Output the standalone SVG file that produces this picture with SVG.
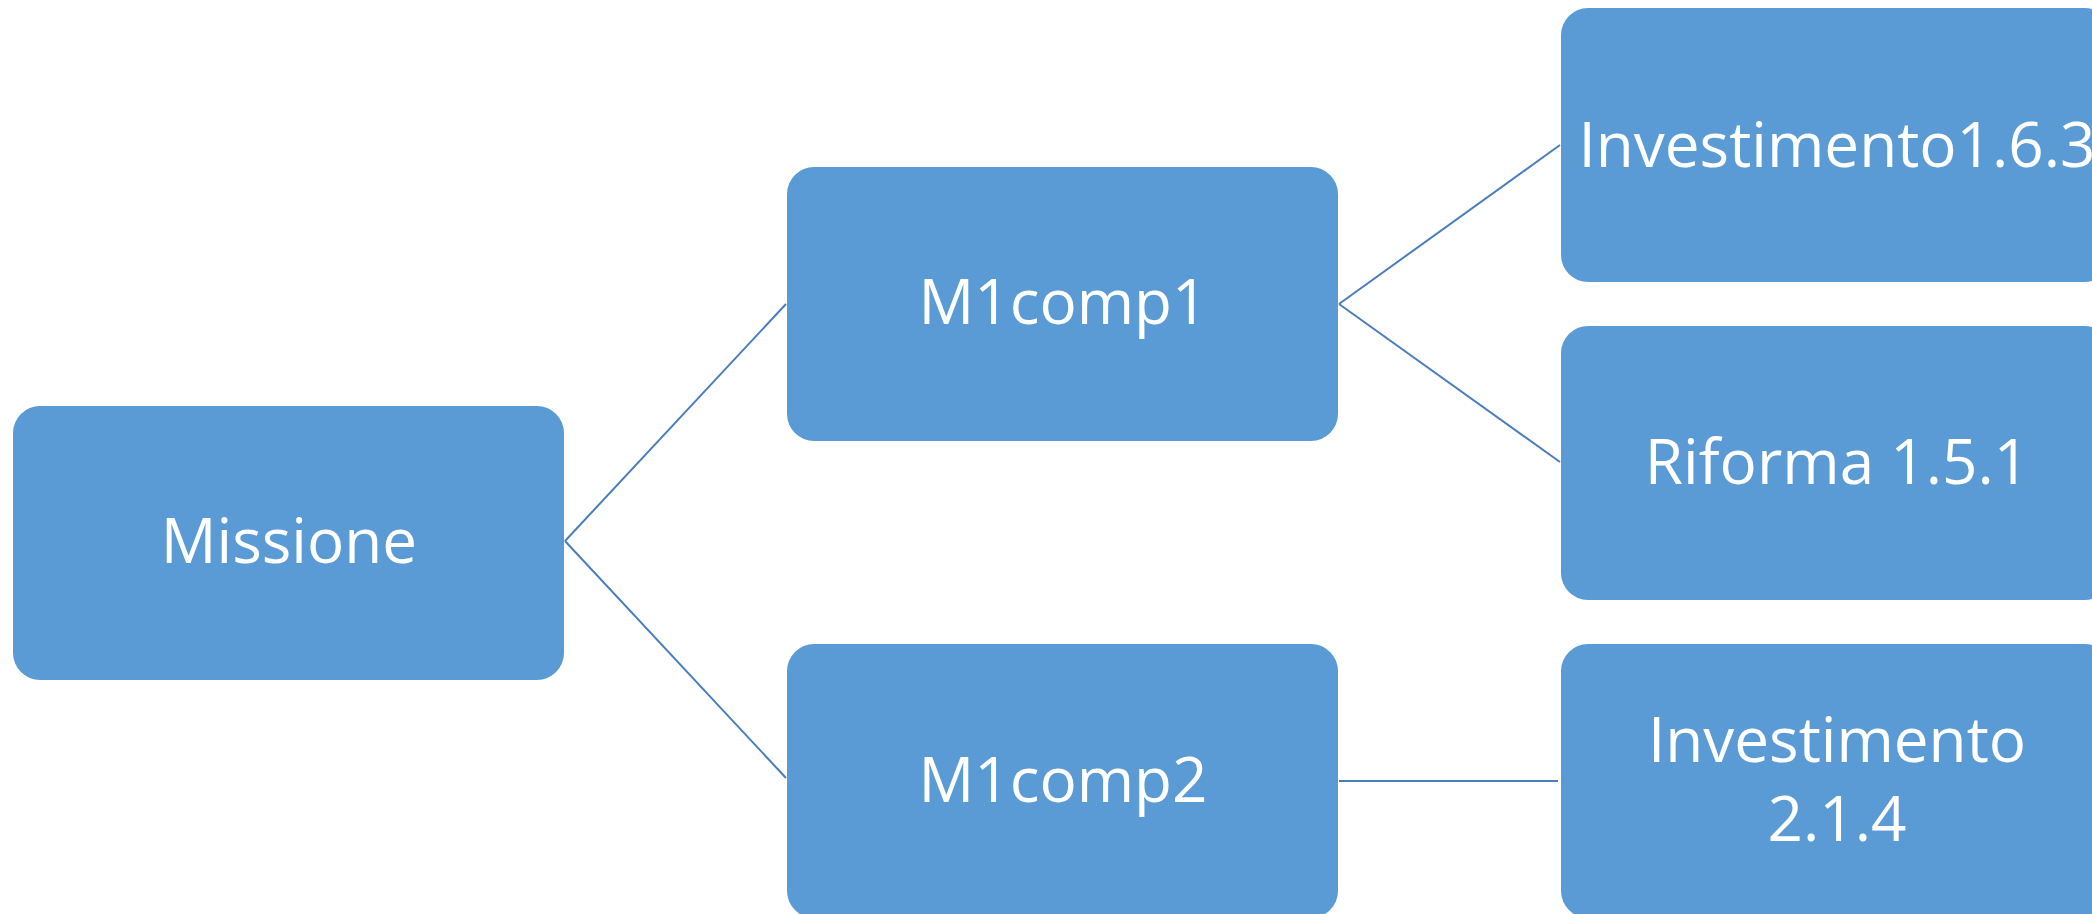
<svg xmlns="http://www.w3.org/2000/svg" width="2092" height="914" viewBox="0 0 2092 914">
  <style>
    .box { fill: #5B9BD5; }
    .lbl { fill: #FFFFFF; font-family: "Open Sans", "Noto Sans", "Liberation Sans", sans-serif; font-size: 62px; text-anchor: middle; }
    .conn { stroke: #4A7EBB; stroke-width: 2; fill: none; }
  </style>
  <rect width="2092" height="914" fill="#FFFFFF"/>
  <g id="connectors">
    <line class="conn" x1="565" y1="541" x2="786" y2="304"/>
    <line class="conn" x1="565" y1="541" x2="786" y2="778"/>
    <line class="conn" x1="1339" y1="304" x2="1560" y2="145"/>
    <line class="conn" x1="1339" y1="304" x2="1560" y2="462"/>
    <line class="conn" x1="1339" y1="781" x2="1558" y2="781"/>
  </g>
  <g id="missione">
    <rect class="box" x="13" y="406" width="551" height="274" rx="27" ry="27"/>
    <text class="lbl" x="289" y="563">Missione</text>
  </g>
  <g id="m1comp1">
    <rect class="box" x="787" y="167" width="551" height="274" rx="27" ry="27"/>
    <text class="lbl" x="1063" y="324">M1comp1</text>
  </g>
  <g id="m1comp2">
    <rect class="box" x="787" y="644" width="551" height="274" rx="27" ry="27"/>
    <text class="lbl" x="1063" y="802">M1comp2</text>
  </g>
  <g id="investimento163">
    <rect class="box" x="1561" y="8" width="551" height="274" rx="27" ry="27"/>
    <text class="lbl" x="1837" y="167">Investimento1.6.3</text>
  </g>
  <g id="riforma151">
    <rect class="box" x="1561" y="326" width="551" height="274" rx="27" ry="27"/>
    <text class="lbl" x="1837" y="484">Riforma 1.5.1</text>
  </g>
  <g id="investimento214">
    <rect class="box" x="1561" y="644" width="551" height="274" rx="27" ry="27"/>
    <text class="lbl" x="1837" y="762">Investimento</text>
    <text class="lbl" x="1837" y="841">2.1.4</text>
  </g>
</svg>
